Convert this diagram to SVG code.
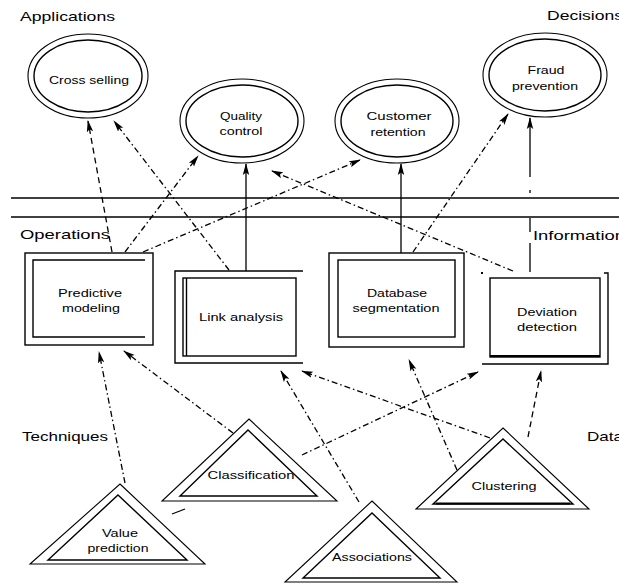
<svg xmlns="http://www.w3.org/2000/svg" width="619" height="584" viewBox="0 0 619 584">
<style>
  .bg{fill:#fff}
  .ln{fill:none;stroke:#000;stroke-width:1.4}
  .thin{fill:none;stroke:#000;stroke-width:1.1}
  .thick{fill:none;stroke:#000;stroke-width:2}
  .conn{fill:none;stroke:#000;stroke-width:1.3}
  .dash{stroke-dasharray:6 4}
  .dd{stroke-dasharray:6 3 1.5 3}
  .sec{font-family:"Liberation Sans",Arial,sans-serif;font-size:13px;fill:#000}
  .lbl{font-family:"Liberation Sans",Arial,sans-serif;font-size:10px;fill:#000;text-anchor:middle}
</style>
<defs>
  <marker id="ah" markerUnits="userSpaceOnUse" markerWidth="12" markerHeight="8" refX="11" refY="4" orient="auto">
    <path d="M0,0.8 L12,4 L0,7.2 L2.5,4 z" fill="#000"/>
  </marker>
</defs>
<rect class="bg" x="0" y="0" width="619" height="584"/>

<g id="section-labels">
  <text class="sec" x="20" y="21" textLength="95" lengthAdjust="spacingAndGlyphs">Applications</text>
  <text class="sec" x="547" y="20" textLength="76" lengthAdjust="spacingAndGlyphs">Decisions</text>
  <text class="sec" x="20" y="239" textLength="90" lengthAdjust="spacingAndGlyphs">Operations</text>
  <text class="sec" x="533" y="240" textLength="92" lengthAdjust="spacingAndGlyphs">Information</text>
  <text class="sec" x="22" y="441" textLength="86" lengthAdjust="spacingAndGlyphs">Techniques</text>
  <text class="sec" x="587" y="441" textLength="36" lengthAdjust="spacingAndGlyphs">Data</text>
</g>

<g id="dividers">
  <line class="ln" x1="11" y1="198" x2="619" y2="198"/>
  <line class="ln" x1="11" y1="217" x2="619" y2="217"/>
</g>

<g id="connectors">
  <line class="conn dd" x1="125" y1="483" x2="99" y2="352" marker-end="url(#ah)"/>
  <line class="conn dash" x1="112" y1="252" x2="88" y2="121" marker-end="url(#ah)"/>
  <line class="conn dd" x1="125" y1="252" x2="198" y2="156" marker-end="url(#ah)"/>
  <line class="conn dd" x1="229" y1="270" x2="114" y2="121" marker-end="url(#ah)"/>
  <line class="conn" x1="246" y1="271" x2="246" y2="164" marker-end="url(#ah)"/>
  <line class="conn dd" x1="143" y1="252" x2="360" y2="160" marker-end="url(#ah)"/>
  <line class="conn dd" x1="513" y1="271" x2="272" y2="171" marker-end="url(#ah)"/>
  <line class="conn dd" x1="413" y1="252" x2="508" y2="114" marker-end="url(#ah)"/>
  <line class="conn" x1="401" y1="253" x2="401" y2="164" marker-end="url(#ah)"/>
  <path class="conn" d="M530,272 V243 M530,232 V218 M530,193 V190"/>
  <line class="conn" x1="530" y1="177" x2="530" y2="118" marker-end="url(#ah)"/>
  <line class="conn dd" x1="233" y1="433" x2="124" y2="351" marker-end="url(#ah)"/>
  <line class="conn dd" x1="359" y1="502" x2="281" y2="371" marker-end="url(#ah)"/>
  <line class="conn dd" x1="490" y1="438" x2="302" y2="371" marker-end="url(#ah)"/>
  <line class="conn dd" x1="457" y1="470" x2="409" y2="360" marker-end="url(#ah)"/>
  <line class="conn dd" x1="302" y1="455" x2="478" y2="372" marker-end="url(#ah)"/>
  <line class="conn dash" x1="528" y1="437" x2="541" y2="371" marker-end="url(#ah)"/>
  <line class="conn" x1="172" y1="514" x2="185" y2="509"/>
</g>

<g id="cross-selling">
  <ellipse class="thin" cx="88" cy="76" rx="60" ry="42"/>
  <ellipse class="ln" cx="88" cy="76" rx="54" ry="36"/>
  <text class="lbl" x="89" y="84" textLength="80" lengthAdjust="spacingAndGlyphs">Cross selling</text>
</g>
<g id="quality-control">
  <ellipse class="thin" cx="242" cy="121" rx="62" ry="42"/>
  <ellipse class="ln" cx="242" cy="121" rx="56" ry="36"/>
  <text class="lbl" x="241" y="120" textLength="42" lengthAdjust="spacingAndGlyphs">Quality</text>
  <text class="lbl" x="241" y="135" textLength="43" lengthAdjust="spacingAndGlyphs">control</text>
</g>
<g id="customer-retention">
  <ellipse class="thin" cx="397" cy="121" rx="62" ry="42"/>
  <ellipse class="ln" cx="397" cy="121" rx="56" ry="36"/>
  <text class="lbl" x="399" y="120" textLength="65" lengthAdjust="spacingAndGlyphs">Customer</text>
  <text class="lbl" x="398" y="136" textLength="55" lengthAdjust="spacingAndGlyphs">retention</text>
</g>
<g id="fraud-prevention">
  <ellipse class="thin" cx="545" cy="75" rx="62" ry="42"/>
  <ellipse class="ln" cx="545" cy="75" rx="56" ry="36"/>
  <text class="lbl" x="546" y="74" textLength="37" lengthAdjust="spacingAndGlyphs">Fraud</text>
  <text class="lbl" x="545" y="90" textLength="66" lengthAdjust="spacingAndGlyphs">prevention</text>
</g>

<g id="predictive-modeling">
  <rect class="ln" x="25" y="253" width="128" height="92" fill="#fff"/>
  <path class="ln" d="M145,260 H33 V337 H145"/>
  <text class="lbl" x="90" y="297" textLength="64" lengthAdjust="spacingAndGlyphs">Predictive</text>
  <text class="lbl" x="91" y="312" textLength="58" lengthAdjust="spacingAndGlyphs">modeling</text>
</g>
<g id="link-analysis">
  <path class="ln" d="M303,271 H175 V363 H303"/>
  <rect class="ln" x="183" y="278" width="113" height="78"/>
  <line class="ln" x1="186.5" y1="278" x2="186.5" y2="356"/>
  <text class="lbl" x="241" y="321" textLength="84" lengthAdjust="spacingAndGlyphs">Link analysis</text>
</g>
<g id="database-segmentation">
  <rect class="ln" x="329" y="253" width="135" height="94"/>
  <rect class="ln" x="338" y="260" width="117" height="77"/>
  <text class="lbl" x="397" y="297" textLength="60" lengthAdjust="spacingAndGlyphs">Database</text>
  <text class="lbl" x="396" y="312" textLength="87" lengthAdjust="spacingAndGlyphs">segmentation</text>
</g>
<g id="deviation-detection">
  <path class="ln" d="M482,364 H608 V273 H604"/>
  <rect x="481" y="272" width="2" height="2" fill="#000"/>
  <rect class="ln" x="490" y="278" width="110" height="79"/>
  <line class="thick" x1="490" y1="356" x2="600" y2="356"/>
  <text class="lbl" x="547" y="316" textLength="60" lengthAdjust="spacingAndGlyphs">Deviation</text>
  <text class="lbl" x="547" y="331" textLength="60" lengthAdjust="spacingAndGlyphs">detection</text>
</g>

<g id="value-prediction">
  <polygon class="thin" points="120,484 205,564 30,564" fill="#fff"/>
  <polygon class="ln" points="118,495 187,560 48,560"/>
  <text class="lbl" x="120" y="537" textLength="36" lengthAdjust="spacingAndGlyphs">Value</text>
  <text class="lbl" x="118" y="552" textLength="61" lengthAdjust="spacingAndGlyphs">prediction</text>
</g>
<g id="classification">
  <polygon class="thin" points="249,419 337,501 162,501" fill="#fff"/>
  <polygon class="ln" points="248,430 317,496 180,496"/>
  <text class="lbl" x="251" y="479" textLength="87" lengthAdjust="spacingAndGlyphs">Classification</text>
</g>
<g id="associations">
  <polygon class="thin" points="372,501 457,582 285,582" fill="#fff"/>
  <polygon class="ln" points="372,513 440,578 303,578"/>
  <text class="lbl" x="372" y="561" textLength="80" lengthAdjust="spacingAndGlyphs">Associations</text>
</g>
<g id="clustering">
  <polygon class="thin" points="503,428 589,509 416,509" fill="#fff"/>
  <polygon class="ln" points="503,439 573,504 433,504"/>
  <line class="thick" x1="436" y1="503.5" x2="570" y2="503.5"/>
  <text class="lbl" x="504" y="490" textLength="65" lengthAdjust="spacingAndGlyphs">Clustering</text>
</g>
</svg>
